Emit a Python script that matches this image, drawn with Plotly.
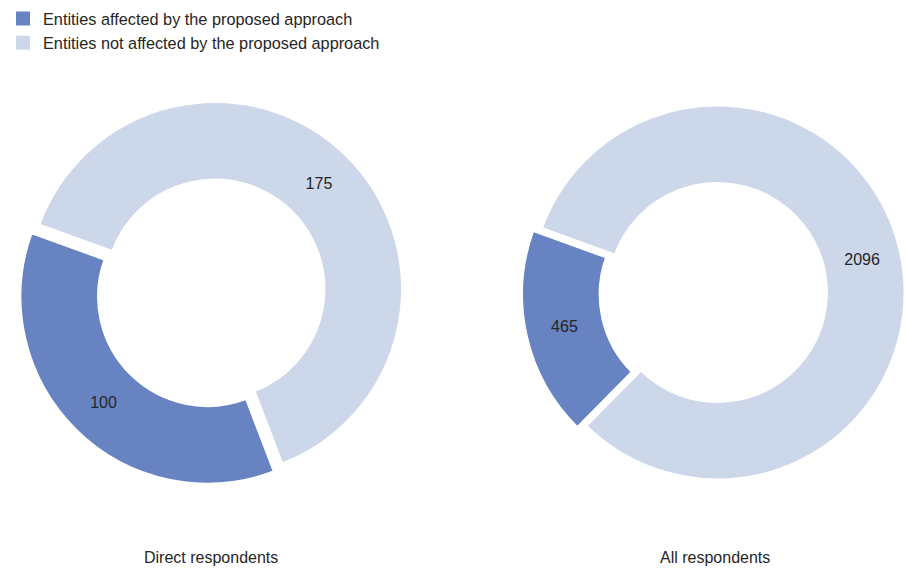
import math
import plotly.graph_objects as go

# ---- data ----
labels = ["Entities affected by the proposed approach",
          "Entities not affected by the proposed approach"]
direct_values = [100, 175]
all_values = [465, 2096]
panel_titles = ["Direct respondents", "All respondents"]

# ---- style ----
colors = ["#6783c2", "#ccd7ea"]
W, H = 906, 570
R = 187.5            # pie radius in px
HOLE = 0.581
END_ANGLE = 290      # clockwise-from-top angle where the first slice ends
FONT = "Liberation Sans, Arial, sans-serif"
TXT = "#262626"
FS = 16

panels = [
    dict(values=direct_values, title=panel_titles[0], center=(215, 289), pull=0.057, tx=210.5),
    dict(values=all_values, title=panel_titles[1], center=(717.5, 292.5), pull=0.046, tx=714.5),
]

fig = go.Figure()
for i, p in enumerate(panels):
    vals = p["values"]
    frac = vals[0] / sum(vals)
    rot = END_ANGLE - 360 * frac
    rot = ((rot + 180) % 360) - 180
    # second slice is pulled; compute pie centre so second slice sits at given centre
    a = math.radians(END_ANGLE + 180 * (1 - frac))
    d = p["pull"] * R
    cx = p["center"][0] - d * math.sin(a)
    cy = p["center"][1] + d * math.cos(a)
    half = R * (1 + p["pull"])
    dom_x = [max(0, (cx - half) / W), min(1, (cx + half) / W)]
    dom_y = [1 - (cy + half) / H, 1 - (cy - half) / H]
    fig.add_trace(go.Pie(
        labels=labels, values=vals, sort=False, direction="clockwise",
        rotation=rot, hole=HOLE, pull=[0, p["pull"]],
        marker=dict(colors=colors, line=dict(color="white", width=3)),
        textinfo="value", textposition="inside", insidetextorientation="horizontal",
        textfont=dict(family=FONT, size=FS, color=TXT),
        domain=dict(x=dom_x, y=dom_y), showlegend=False,
    ))
    fig.add_annotation(x=p["tx"] / W, y=1 - 557 / H, xref="paper", yref="paper",
                       text=p["title"], showarrow=False, xanchor="center", yanchor="middle",
                       font=dict(family=FONT, size=FS, color=TXT))

# legend entries (square swatches)
for lab, col in zip(labels, colors):
    fig.add_trace(go.Scatter(x=[None], y=[None], mode="markers", name=lab,
                             marker=dict(symbol="square", size=14, color=col),
                             showlegend=True, hoverinfo="skip"))

fig.update_layout(
    width=W, height=H, margin=dict(l=0, r=0, t=0, b=0),
    paper_bgcolor="white", plot_bgcolor="white",
    font=dict(family=FONT, size=FS, color=TXT),
    xaxis=dict(visible=False), yaxis=dict(visible=False),
    legend=dict(x=3 / W, y=1 - 1.5 / H, xanchor="left", yanchor="top", bgcolor="rgba(0,0,0,0)",
                font=dict(family=FONT, size=16.3, color=TXT), traceorder="normal"),
)
fig.write_html("out.html", config={"displayModeBar": False},
               post_script="document.body.style.margin='0px';document.body.style.overflow='hidden';")
